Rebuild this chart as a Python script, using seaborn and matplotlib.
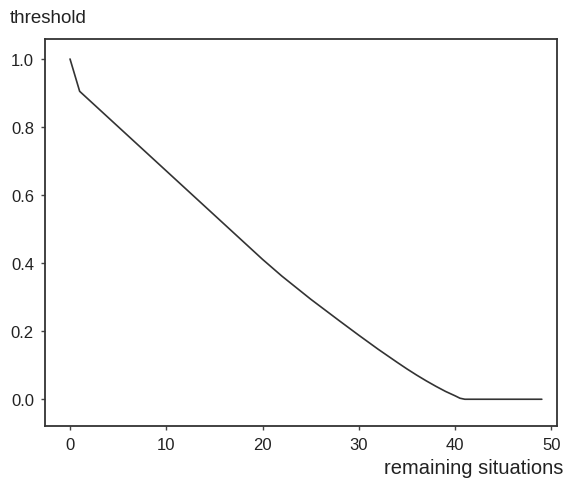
import matplotlib
matplotlib.use("Agg")
import matplotlib.pyplot as plt
import seaborn as sns
import pandas as pd

# values
remaining = [0, 1, 5, 10, 15, 18, 20, 22, 25, 28, 30, 32, 34, 35, 36, 37, 38, 39, 40, 40.5, 41, 45, 49]
threshold = [1.0, 0.905, 0.801, 0.671, 0.541, 0.463, 0.411, 0.362, 0.294, 0.23, 0.188,
             0.147, 0.108, 0.089, 0.071, 0.054, 0.038, 0.023, 0.01, 0.003, 0.0, 0.0, 0.0]
x_ticks = [0, 10, 20, 30, 40, 50]
y_ticks = [0.0, 0.2, 0.4, 0.6, 0.8, 1.0]

df = pd.DataFrame({"remaining situations": remaining, "threshold": threshold})

sns.set_style("white")
plt.rcParams["font.family"] = ["Liberation Sans", "DejaVu Sans"]

fig = plt.figure(figsize=(5.66, 4.81), dpi=100)
ax = fig.add_axes([0.0795, 0.112, 0.905, 0.805])

sns.lineplot(data=df, x="remaining situations", y="threshold", ax=ax,
             color="#333333", linewidth=1.2)

ax.set_xlim(-2.6, 50.6)
ax.set_ylim(-0.079, 1.059)
ax.set_xticks(x_ticks)
ax.set_yticks(y_ticks)
ax.set_xticklabels([str(t) for t in x_ticks])
ax.set_yticklabels([f"{t:.1f}" for t in y_ticks])
ax.tick_params(direction="out", length=3, width=1, color="#444444",
               labelsize=12, labelcolor="#222222", bottom=True, left=True, pad=5)

for s in ax.spines.values():
    s.set_color("#333333")
    s.set_linewidth(1.3)

ax.set_xlabel("")
ax.set_ylabel("")
fig.text(0.018, 0.962, "threshold", fontsize=13.5, color="#222222", va="center")
fig.text(0.995, 0.027, "remaining situations", fontsize=14.5, color="#222222",
         ha="right", va="center")

fig.savefig("out.png", dpi=100, facecolor="white")
